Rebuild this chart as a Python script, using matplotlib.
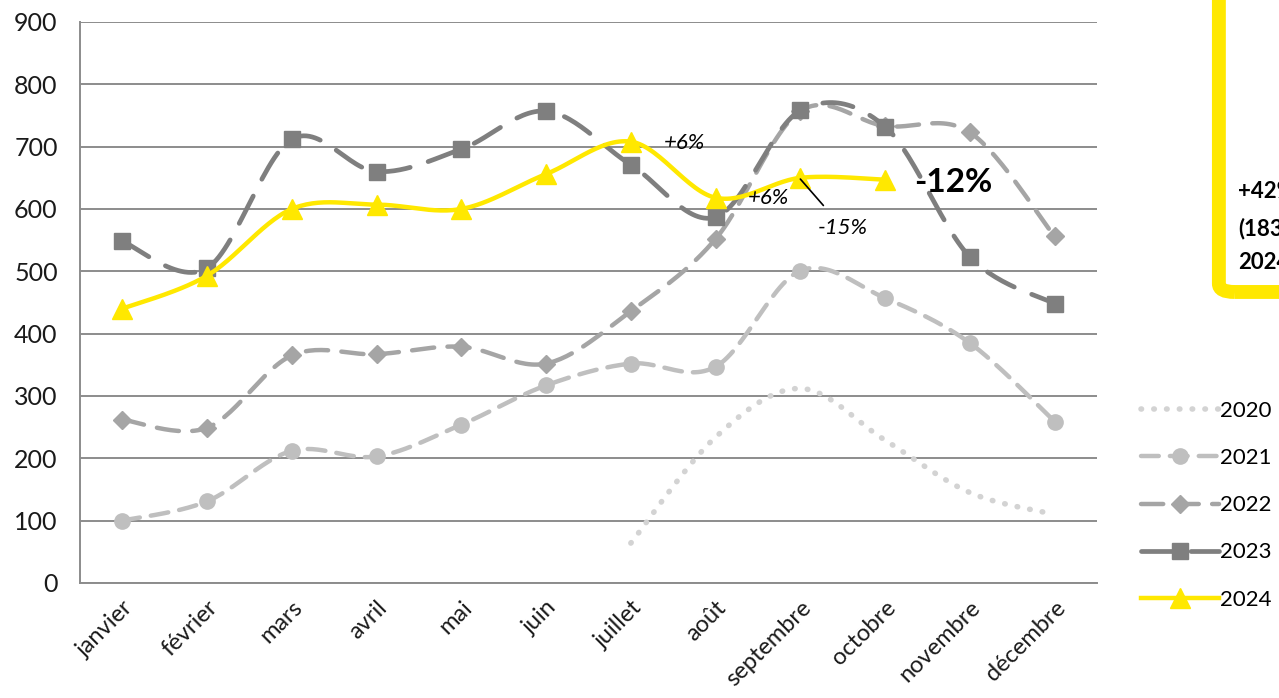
import numpy as np
import matplotlib
matplotlib.use("Agg")
import matplotlib.pyplot as plt
from matplotlib.patches import FancyBboxPatch

# --- data -------------------------------------------------------------
months = ["janvier", "février", "mars", "avril", "mai", "juin", "juillet",
          "août", "septembre", "octobre", "novembre", "décembre"]
nan = np.nan
v2020 = [nan, nan, nan, nan, nan, nan, 64, 234, 312, 229, 145, 110]
v2021 = [100, 131, 212, 203, 254, 317, 352, 347, 501, 457, 385, 259]
v2022 = [262, 249, 365, 367, 379, 352, 436, 552, 757, 733, 723, 556]
v2023 = [548, 505, 712, 660, 696, 757, 671, 587, 758, 732, 523, 448]
v2024 = [440, 493, 600, 607, 600, 656, 708, 618, 650, 647, nan, nan]
yticks = [0, 100, 200, 300, 400, 500, 600, 700, 800, 900]

plt.rcParams['font.family'] = ['Lato', 'DejaVu Sans']


def smooth(x, y, n=30):
    # Catmull-Rom curve through the points (Excel-like "smoothed line")
    x = np.asarray(x, float)
    y = np.asarray(y, float)
    ok = ~np.isnan(y)
    x, y = x[ok], y[ok]
    px = np.concatenate([[x[0]], x, [x[-1]]])
    py = np.concatenate([[y[0]], y, [y[-1]]])
    xs, ys = [], []
    t = np.linspace(0, 1, n)
    for i in range(1, len(px) - 2):
        p0, p1, p2, p3 = px[i - 1], px[i], px[i + 1], px[i + 2]
        q0, q1, q2, q3 = py[i - 1], py[i], py[i + 1], py[i + 2]
        xs.append(0.5 * (2 * p1 + (-p0 + p2) * t + (2 * p0 - 5 * p1 + 4 * p2 - p3) * t**2
                         + (-p0 + 3 * p1 - 3 * p2 + p3) * t**3))
        ys.append(0.5 * (2 * q1 + (-q0 + q2) * t + (2 * q0 - 5 * q1 + 4 * q2 - q3) * t**2
                         + (-q0 + 3 * q1 - 3 * q2 + q3) * t**3))
    return np.concatenate(xs), np.concatenate(ys)


fig = plt.figure(figsize=(12.79, 6.98), dpi=100)
ax = fig.add_axes([0.0625, 0.1648, 0.7952, 0.8037])
x = np.arange(len(months))

series = [
    ("2020", v2020, "#d3d3d3", None, 0, (0, (0.1, 2.2)), 4.0),
    ("2021", v2021, "#bfbfbf", "o", 11, (0, (4, 2.5)), 3.2),
    ("2022", v2022, "#a5a5a5", "D", 9, (0, (5, 3)), 3.2),
    ("2023", v2023, "#7f7f7f", "s", 11, (0, (6.5, 4)), 3.4),
    ("2024", v2024, "#ffe800", "^", 14, "-", 3.2),
]

handles = []
for i, (name, vals, col, mk, ms, ls, lw) in enumerate(series):
    sx, sy = smooth(x, vals)
    ax.plot(sx, sy, color=col, lw=lw, ls=ls, zorder=3 + i,
            dash_capstyle="round", solid_capstyle="round")
    if mk:
        ax.plot(x, vals, ls="none", marker=mk, ms=ms, color=col, zorder=3 + i)
    h, = ax.plot([], [], color=col, lw=lw, ls=ls, marker=mk, ms=ms,
                 dash_capstyle="round")
    h.set_label(name)
    handles.append(h)

ax.set_xlim(-0.5, 11.5)
ax.set_ylim(0, 900)
ax.set_yticks(yticks)
ax.set_xticks(x)
ax.set_xticklabels(months, rotation=45, ha="right", va="top",
                   rotation_mode="anchor", fontsize=17, color="#1a1a1a")
ax.tick_params(axis="y", length=0, pad=16, labelsize=18, labelcolor="#1a1a1a")
ax.tick_params(axis="x", length=0, pad=10)
ax.yaxis.grid(True, color="#8c8c8c", lw=1.4)
ax.set_axisbelow(True)
for s in ["top", "right"]:
    ax.spines[s].set_visible(False)
for s in ["left", "bottom"]:
    ax.spines[s].set_color("#8c8c8c")
    ax.spines[s].set_linewidth(1.4)

# annotations
ax.text(6.63, 706, "+6%", fontsize=16, style="italic",
        ha="center", va="center", zorder=10)
ax.text(7.62, 618, "+6%", fontsize=16, style="italic",
        ha="center", va="center", zorder=10)
ax.annotate("-15%", xy=(8.0, 648), xytext=(8.5, 570), fontsize=16,
            style="italic", ha="center", va="center",
            arrowprops=dict(arrowstyle="-", color="black", lw=1.2,
                            shrinkA=9, shrinkB=0), zorder=10)
ax.text(9.8, 643, "-12%", fontsize=24, weight="bold", ha="center",
        va="center", zorder=10)

leg = fig.legend(handles=handles, loc="upper left",
                 bbox_to_anchor=(0.885, 0.438), frameon=False, fontsize=16,
                 handlelength=3.5, handletextpad=0.05, labelspacing=1.22,
                 borderaxespad=0)

# yellow box at top right (partly outside the figure)
box = FancyBboxPatch((0.953, 0.5817), 0.2, 0.6, transform=fig.transFigure,
                     boxstyle="round,pad=0,rounding_size=0.012",
                     fc="none", ec="#ffe800", lw=10, clip_on=False)
fig.patches.append(box)
for yy, txt in [(0.725, "+42%"), (0.672, "(183)"), (0.624, "2024")]:
    fig.text(0.968, yy, txt, fontsize=16, weight="bold", va="center", ha="left")

fig.savefig("out.png", dpi=100)
